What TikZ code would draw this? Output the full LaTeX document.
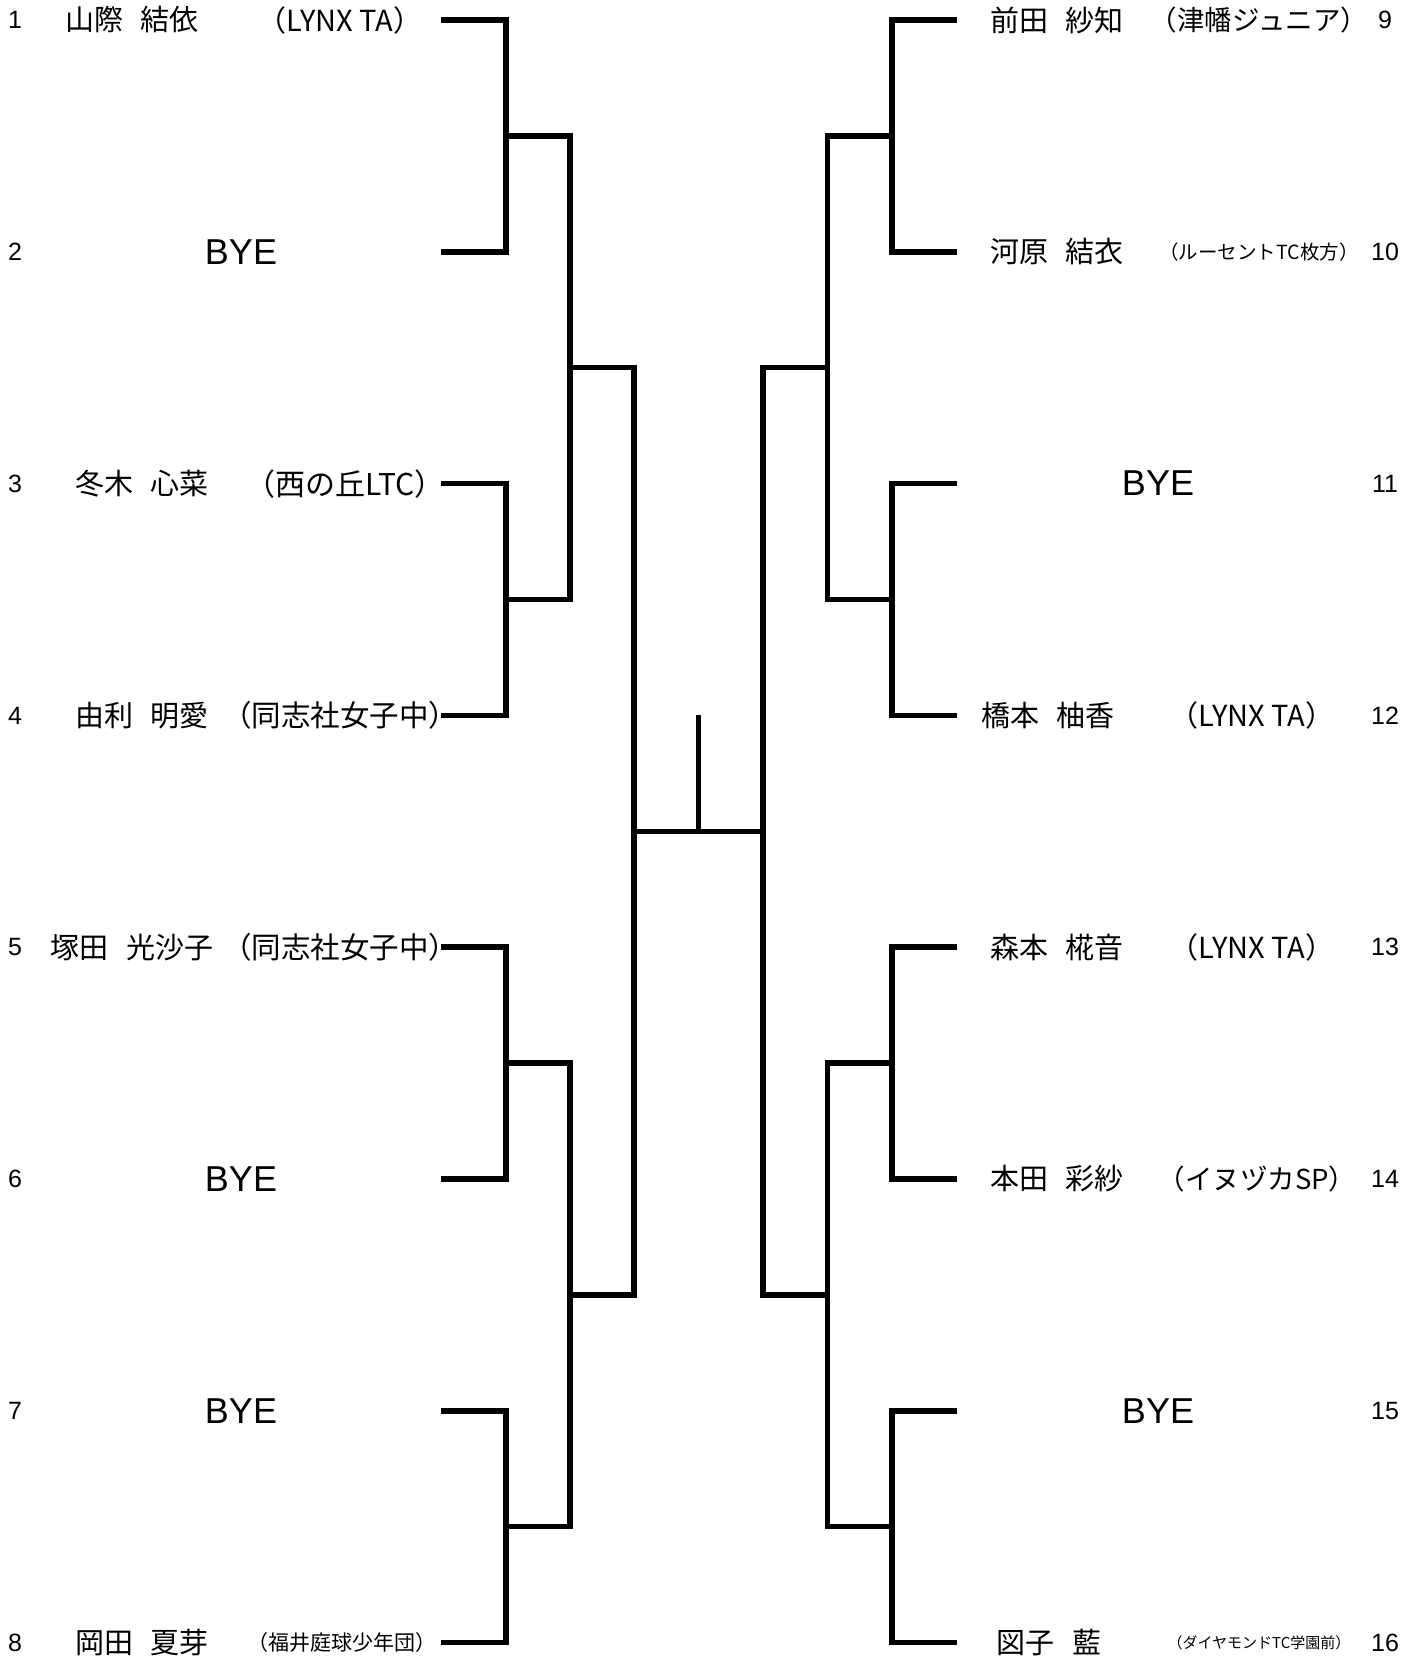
\documentclass[tikz,border=0pt]{standalone}
\usepackage{fontspec}
\setmainfont{Noto Sans CJK JP}
\newfontfamily\latinf{Liberation Sans}
\newcommand{\fsz}[1]{\fontsize{#1}{#1}\selectfont}
\begin{document}
\begin{tikzpicture}[x=1pt,y=-1pt,
  br/.style={line width=5.5pt, line join=miter, black},
  num/.style={font=\latinf\fsz{25}, inner sep=0},
  pname/.style={font=\fsz{29}, inner sep=0},
  club/.style={font=\fsz{29}, inner sep=0},
  clubs/.style={font=\fsz{20}, inner sep=0},
  clubxs/.style={font=\fsz{15}, inner sep=0},
  bye/.style={font=\latinf\fsz{36}, inner sep=0}]
\useasboundingbox (0,0) rectangle (1418,1658);
% row coordinates
\foreach \i in {1,...,8} {
  \pgfmathsetmacro{\yy}{20+(\i-1)*231.8}
  \coordinate (L\i) at (441,\yy);
  \coordinate (R\i) at (957,\yy);
}
\coordinate (M1) at (506,135.9);  \coordinate (M2) at (506,599.5);
\coordinate (M3) at (506,1063.1); \coordinate (M4) at (506,1526.7);
\coordinate (N1) at (570,367.7);  \coordinate (N2) at (570,1295);
\coordinate (F1) at (634,831.3);
\coordinate (P1) at (892,135.9);  \coordinate (P2) at (892,599.5);
\coordinate (P3) at (892,1063.1); \coordinate (P4) at (892,1526.7);
\coordinate (Q1) at (827.5,367.7); \coordinate (Q2) at (827.5,1295);
\coordinate (F2) at (763,831.3);
\coordinate (W) at (698.5,831.3);
\coordinate (T) at (698.5,715.4);
% left bracket
\draw[br] (L1) -| (M1) |- (L2);
\draw[br] (L3) -| (M2) |- (L4);
\draw[br] (L5) -| (M3) |- (L6);
\draw[br] (L7) -| (M4) |- (L8);
\draw[br] (M1) -| (N1) |- (M2);
\draw[br] (M3) -| (N2) |- (M4);
\draw[br] (N1) -| (F1) |- (N2);
% right bracket
\draw[br] (R1) -| (P1) |- (R2);
\draw[br] (R3) -| (P2) |- (R4);
\draw[br] (R5) -| (P3) |- (R6);
\draw[br] (R7) -| (P4) |- (R8);
\draw[br] (P1) -| (Q1) |- (P2);
\draw[br] (P3) -| (Q2) |- (P4);
\draw[br] (Q1) -| (F2) |- (Q2);
% final
\draw[br] (F1) -- (F2);
\draw[br] (W) -- (T);
% left texts
\node[num] (k1) at (15,20) {1};
\node[num] (k2) at (15,251.8) {2};
\node[num] (k3) at (15,483.6) {3};
\node[num] (k4) at (15,715.4) {4};
\node[num] (k5) at (15,947.2) {5};
\node[num] (k6) at (15,1179) {6};
\node[num] (k7) at (15,1410.8) {7};
\node[num] (k8) at (15,1642.6) {8};
\node[pname] (n1) at (132,20) {山際\hspace{0.6em}結依};
\node[club] (c1) at (340,20) {（LYNX TA）};
\node[bye] (b2) at (241,251.8) {BYE};
\node[pname] (n3) at (142,483.6) {冬木\hspace{0.6em}心菜};
\node[club,font=\fsz{30}] (c3) at (345,483.6) {（西の丘LTC）};
\node[pname] (n4) at (142,715.4) {由利\hspace{0.6em}明愛};
\node[club,font=\fsz{29.5}] (c4) at (340,715.4) {（同志社女子中）};
\node[pname] (n5) at (132,947.2) {塚田\hspace{0.6em}光沙子};
\node[club,font=\fsz{29.5}] (c5) at (340,947.2) {（同志社女子中）};
\node[bye] (b6) at (241,1179) {BYE};
\node[bye] (b7) at (241,1410.8) {BYE};
\node[pname] (n8) at (142,1642.6) {岡田\hspace{0.6em}夏芽};
\node[clubs,font=\fsz{21}] (c8) at (342,1642.6) {（福井庭球少年団）};
% right texts
\node[num] (k9) at (1385,20) {9};
\node[num] (k10) at (1385,251.8) {10};
\node[num] (k11) at (1385,483.6) {11};
\node[num] (k12) at (1385,715.4) {12};
\node[num] (k13) at (1385,947.2) {13};
\node[num] (k14) at (1385,1179) {14};
\node[num] (k15) at (1385,1410.8) {15};
\node[num] (k16) at (1385,1642.6) {16};
\node[pname] (n9) at (1057,20) {前田\hspace{0.6em}紗知};
\node[club,font=\fsz{27.5}] (c9) at (1259,20) {（津幡ジュニア）};
\node[pname] (n10) at (1057,251.8) {河原\hspace{0.6em}結衣};
\node[clubs,font=\fsz{19.5}] (c10) at (1259,251.8) {（ルーセントTC枚方）};
\node[bye] (b11) at (1158,483.6) {BYE};
\node[pname] (n12) at (1048,715.4) {橋本\hspace{0.6em}柚香};
\node[club] (c12) at (1252,715.4) {（LYNX TA）};
\node[pname] (n13) at (1057,947.2) {森本\hspace{0.6em}椛音};
\node[club] (c13) at (1252,947.2) {（LYNX TA）};
\node[pname] (n14) at (1057,1179) {本田\hspace{0.6em}彩紗};
\node[club,font=\fsz{27.5}] (c14) at (1257,1179) {（イヌヅカSP）};
\node[bye] (b15) at (1158,1410.8) {BYE};
\node[pname] (n16) at (1049,1642.6) {図子\hspace{0.6em}藍};
\node[clubxs] (c16) at (1259,1642.6) {（ダイヤモンドTC学園前）};
\end{tikzpicture}
\end{document}
